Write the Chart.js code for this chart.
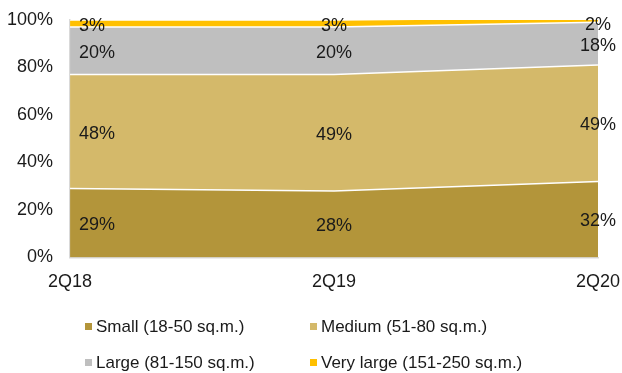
<!DOCTYPE html>
<html>
<head>
<meta charset="utf-8">
<script src="https://cdn.jsdelivr.net/npm/chart.js@4.4.1/dist/chart.umd.min.js"></script>
<style>
    html, body { margin: 0; padding: 0; background: #ffffff; }
    #wrap { position: relative; width: 622px; height: 373px; }
</style>
</head>
<body>
<div id="wrap"><canvas id="sizeShareChart" width="622" height="373"></canvas></div>
<script>
// Quarters on the x axis
const quarters = ['2Q18', '2Q19', '2Q20'];

// Share of units by size (%)
const smallShare = [29, 28, 32];
const mediumShare = [48, 49, 49];
const largeShare = [20, 20, 18];
const veryLargeShare = [3, 3, 2];

const seriesNames = ['Small (18-50 sq.m.)', 'Medium (51-80 sq.m.)', 'Large (81-150 sq.m.)', 'Very large (151-250 sq.m.)'];
const seriesColors = ['#b3953a', '#d4b96a', '#bfbfbf', '#ffc000'];

const yTicks = [0, 20, 40, 60, 80, 100];

const fontFamily = 'Liberation Sans, Arial, sans-serif';

function buildDataset(name, values, color, index) {
    return {
        label: name,
        data: values,
        backgroundColor: color,
        borderColor: '#ffffff',
        borderWidth: 1.5,
        pointRadius: 0,
        tension: 0,
        fill: index === 0 ? 'origin' : '-1'
    };
}

// Percent labels in the middle of each band
const bandLabels = {
    id: 'bandLabels',
    afterDatasetsDraw(chart) {
        const ctx = chart.ctx;
        const x = chart.scales.x;
        const y = chart.scales.y;
        ctx.save();
        ctx.font = '18px ' + fontFamily;
        ctx.fillStyle = '#1a1a1a';
        ctx.textBaseline = 'middle';
        chart.data.labels.forEach((q, i) => {
            let base = 0;
            chart.data.datasets.forEach(ds => {
                const v = ds.data[i];
                const py = y.getPixelForValue(Math.min(base + v / 2, 98.8)) + 2;
                let px = x.getPixelForValue(i);
                if (i === 0) {
                    ctx.textAlign = 'left';
                    px += 9;
                } else {
                    ctx.textAlign = 'center';
                }
                ctx.fillText(v + '%', px, py);
                base += v;
            });
        });
        ctx.restore();
    }
};

// Legend in two rows and two columns under the plot
const gridLegend = {
    id: 'gridLegend',
    afterDraw(chart) {
        const ctx = chart.ctx;
        const cols = [85, 310];
        const rows = [327, 363];
        ctx.save();
        ctx.font = '17px ' + fontFamily;
        ctx.textBaseline = 'middle';
        ctx.textAlign = 'left';
        chart.data.datasets.forEach((ds, i) => {
            const cx = cols[i % 2];
            const cy = rows[Math.floor(i / 2)];
            ctx.fillStyle = ds.backgroundColor;
            ctx.fillRect(cx, cy - 4, 7, 7);
            ctx.fillStyle = '#1a1a1a';
            ctx.fillText(ds.label, cx + 11, cy);
        });
        ctx.restore();
    }
};

function crearGrafico() {
    const ctx = document.getElementById('sizeShareChart').getContext('2d');
    const allSeries = [smallShare, mediumShare, largeShare, veryLargeShare];

    new Chart(ctx, {
        type: 'line',
        data: {
            labels: quarters,
            datasets: allSeries.map((vals, i) => buildDataset(seriesNames[i], vals, seriesColors[i], i))
        },
        options: {
            responsive: false,
            animation: false,
            layout: {
                padding: { left: 7, right: 24, top: 20, bottom: 80 }
            },
            plugins: {
                legend: { display: false },
                tooltip: { enabled: false }
            },
            scales: {
                x: {
                    offset: false,
                    // invisible tick marks keep the labels away from the axis
                    grid: { display: true, drawOnChartArea: false, drawTicks: true, tickLength: 14, color: 'rgba(0,0,0,0)' },
                    border: { display: true, color: '#d9d9d9', width: 1.5 },
                    ticks: {
                        padding: 0,
                        maxRotation: 0,
                        color: '#1a1a1a',
                        font: { family: fontFamily, size: 18 }
                    }
                },
                y: {
                    stacked: true,
                    min: 0,
                    max: 100,
                    afterBuildTicks(axis) {
                        axis.ticks = yTicks.map(v => ({ value: v }));
                    },
                    grid: { display: true, drawOnChartArea: false, drawTicks: true, tickLength: 17, color: 'rgba(0,0,0,0)' },
                    border: { display: true, color: '#d9d9d9', width: 1.5 },
                    ticks: {
                        padding: 0,
                        color: '#1a1a1a',
                        font: { family: fontFamily, size: 18 },
                        callback: v => v + '%'
                    }
                }
            }
        },
        plugins: [bandLabels, gridLegend]
    });
}

crearGrafico();
</script>
</body>
</html>
